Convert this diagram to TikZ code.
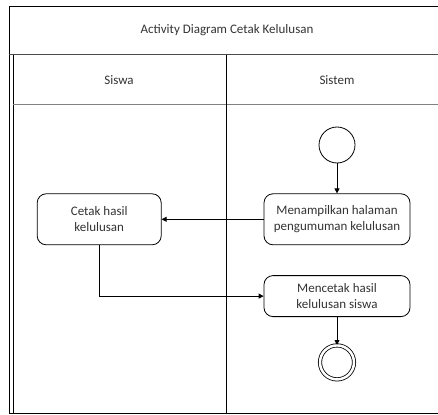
\documentclass[tikz,border=0pt]{standalone}
\usepackage{fontspec}
\setmainfont{Carlito}
\usetikzlibrary{arrows.meta, positioning}

\begin{document}
\begin{tikzpicture}[x=1pt, y=-1pt, font=\fontsize{13}{16}\selectfont, node distance=30pt,
    act/.style={draw, rounded corners=9pt, minimum height=51pt, align=center, line width=0.8pt, text=black!80},
    startnode/.style={draw, circle, minimum size=36pt, line width=0.8pt},
    endnode/.style={draw, circle, minimum size=34pt, double, double distance=2.5pt, line width=0.8pt},
    lane/.style={line width=0.8pt},
    arr/.style={-{Triangle[length=5pt, width=5pt]}, line width=0.8pt}]
    \useasboundingbox (0,0) rectangle (438,414);
    % swimlane frame
    \draw[lane] (438,6) -- (9,6) -- (9,413) -- (438,413);
    \draw[lane, black!70] (9,54.5) -- (438,54.5);
    \draw[lane] (13,55) -- (13,413);
    \draw[lane, black!50] (13,104) -- (438,104);
    \draw[lane] (226,55) -- (226,413);
    \node[text=black!80] (title) at (227,30) {Activity Diagram Cetak Kelulusan};
    \node[text=black!80] (siswa) at (119,80) {Siswa};
    \node[text=black!80] (sistem) at (337,80) {Sistem};
    % activities
    \node[startnode] (start) at (337,145) {};
    \node[act, minimum width=146pt, below=of start] (show) {Menampilkan halaman\\pengumuman kelulusan};
    \node[act, minimum width=124pt, left=102pt of show] (cetak) {Cetak hasil\\kelulusan};
    \node[act, minimum width=146pt, minimum height=41pt, below=of show] (print) {Mencetak hasil\\kelulusan siswa};
    \node[endnode, below=28pt of print] (end) {};
    \draw[arr] (start) -- (show);
    \draw[arr] (show) -- (cetak);
    \draw[arr] (cetak.south) |- (print.west);
    \draw[arr] (print) -- (end);
\end{tikzpicture}
\end{document}
